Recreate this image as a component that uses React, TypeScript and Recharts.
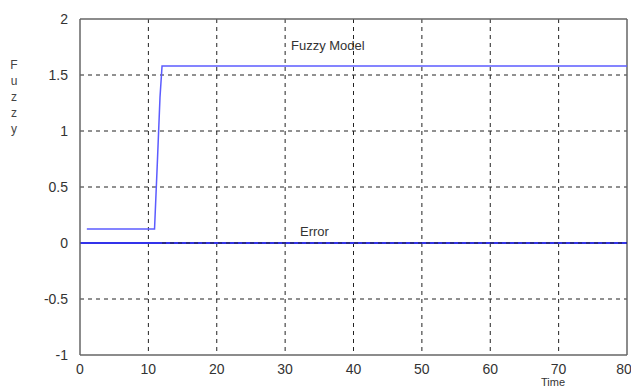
import { LineChart, Line, XAxis, YAxis, CartesianGrid, ReferenceLine } from "recharts";

const xTicks = [0, 10, 20, 30, 40, 50, 60, 70, 80];
const yTicks = [-1, -0.5, 0, 0.5, 1, 1.5, 2];

const fuzzyTime = [1, 10.9, 11.3, 11.7, 12, 80];
const fuzzyValue = [0.125, 0.125, 0.7, 1.3, 1.58, 1.58];

const errorTime = [0, 80];
const errorValue = [0, 0];

const fuzzyData = fuzzyTime.map((t, i) => ({ t, v: fuzzyValue[i] }));
const errorData = errorTime.map((t, i) => ({ t, v: errorValue[i] }));

const font = "'Liberation Sans', Arial, sans-serif";

export default function App() {
  return (
    <div style={{ position: "absolute", left: 0, top: 0, width: 631, height: 387, overflow: "hidden", background: "#fff", fontFamily: font }}>
      <LineChart width={631} height={387} margin={{ top: 19, right: 4, bottom: 0, left: 0 }}>
        <CartesianGrid stroke="#222" strokeDasharray="4 4" verticalValues={xTicks.slice(1, -1)} horizontalValues={[-0.5, 0, 0.5, 1, 1.5]} />
        <XAxis
          dataKey="t"
          type="number"
          domain={[0, 80]}
          ticks={xTicks}
          allowDataOverflow
          stroke="#666"
          strokeWidth={1.5}
          tickLine={false}
          tickMargin={3}
          height={32}
          tick={{ fontSize: 14, fill: "#333", fontFamily: font }}
        />
        <YAxis
          type="number"
          domain={[-1, 2]}
          ticks={yTicks}
          width={80}
          stroke="#666"
          strokeWidth={1.5}
          tickLine={false}
          tickMargin={6}
          tick={{ fontSize: 14, fill: "#333", fontFamily: font }}
        />
        <ReferenceLine y={2} stroke="#666" strokeWidth={1.5} />
        <ReferenceLine x={80} stroke="#666" strokeWidth={1.5} />
        <Line data={errorData} dataKey="v" stroke="#3333ea" strokeWidth={2} dot={false} isAnimationActive={false} />
        <Line data={fuzzyData} dataKey="v" stroke="#5c5cff" strokeWidth={1.5} dot={false} isAnimationActive={false} />
        <ReferenceLine segment={[{ x: 12, y: 0 }, { x: 80, y: 0 }]} stroke="#222" strokeDasharray="4 4" />
      </LineChart>
      <div style={{ position: "absolute", left: 541, top: 376, fontSize: 11, lineHeight: "12px", color: "#333" }}>Time</div>
      <div style={{ position: "absolute", left: 291, top: 38, fontSize: 13, color: "#333" }}>Fuzzy Model</div>
      <div style={{ position: "absolute", left: 300, top: 224, fontSize: 13, color: "#333" }}>Error</div>
      <div style={{ position: "absolute", left: 8, top: 57, width: 12, fontSize: 12, color: "#444", lineHeight: "16px", textAlign: "center" }}>
        {"Fuzzy".split("").map((c, i) => (
          <div key={i}>{c}</div>
        ))}
      </div>
    </div>
  );
}
